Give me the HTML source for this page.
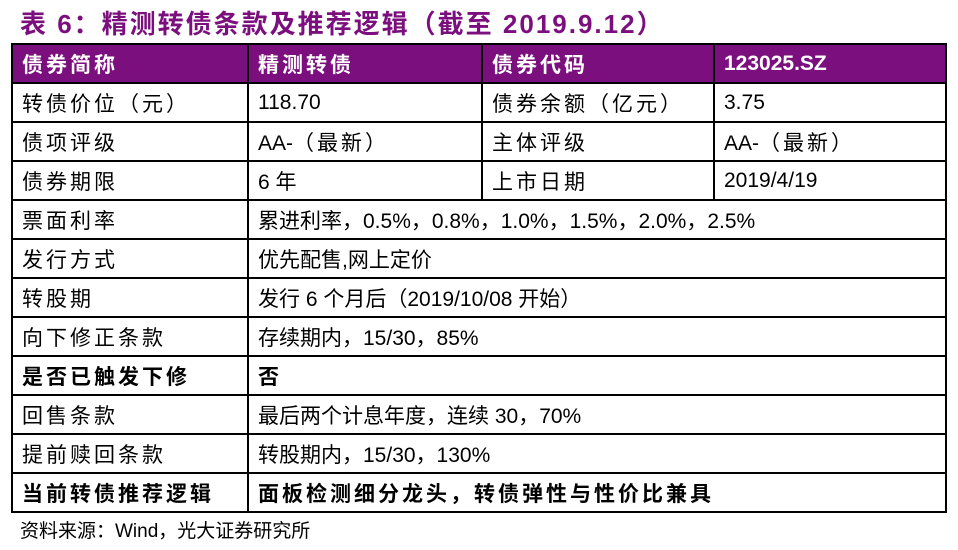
<!DOCTYPE html>
<html><head><meta charset="utf-8"><style>
body{margin:0;width:958px;height:550px;background:#fff;position:relative;overflow:hidden;font-family:"Liberation Sans","Noto Sans CJK SC",sans-serif}
.t{position:absolute;left:20px;top:4px;font-size:26px;font-weight:bold;color:#7b0f7e;white-space:nowrap;letter-spacing:2px}
table{position:absolute;left:11px;top:43px;border-collapse:collapse;table-layout:fixed}
td{border:2px solid #000;height:37px;box-sizing:border-box;padding:0 0 0 9px;font-size:21px;color:#000;white-space:nowrap;overflow:hidden}
tr{height:39px}
tr.h td{background:#7b0f7e;color:#fff;font-weight:bold}
.b{font-weight:bold}
.c{letter-spacing:3px}
.src{position:absolute;left:20px;top:516px;font-size:19px;color:#000}
</style></head><body>
<div class="t">表 6：精测转债条款及推荐逻辑（截至 2019.9.12）</div>
<table>
<colgroup><col style="width:236px"><col style="width:234px"><col style="width:232px"><col style="width:232px"></colgroup>
<tr class="h"><td class="c">债券简称</td><td class="c">精测转债</td><td class="c">债券代码</td><td>123025.SZ</td></tr>
<tr><td class="c">转债价位（元）</td><td>118.70</td><td class="c">债券余额（亿元）</td><td>3.75</td></tr>
<tr><td class="c">债项评级</td><td>AA-<span class="c">（最新）</span></td><td class="c">主体评级</td><td>AA-<span class="c">（最新）</span></td></tr>
<tr><td class="c">债券期限</td><td>6 年</td><td class="c">上市日期</td><td>2019/4/19</td></tr>
<tr><td class="c">票面利率</td><td colspan="3">累进利率，0.5%，0.8%，1.0%，1.5%，2.0%，2.5%</td></tr>
<tr><td class="c">发行方式</td><td colspan="3">优先配售,网上定价</td></tr>
<tr><td class="c">转股期</td><td colspan="3">发行 6 个月后（2019/10/08 开始）</td></tr>
<tr><td class="c">向下修正条款</td><td colspan="3">存续期内，15/30，85%</td></tr>
<tr><td class="b c">是否已触发下修</td><td colspan="3" class="b">否</td></tr>
<tr><td class="c">回售条款</td><td colspan="3">最后两个计息年度，连续 30，70%</td></tr>
<tr><td class="c">提前赎回条款</td><td colspan="3">转股期内，15/30，130%</td></tr>
<tr><td class="b c">当前转债推荐逻辑</td><td colspan="3" class="b c">面板检测细分龙头，转债弹性与性价比兼具</td></tr>
</table>
<div class="src">资料来源：Wind，光大证券研究所</div>
</body></html>
